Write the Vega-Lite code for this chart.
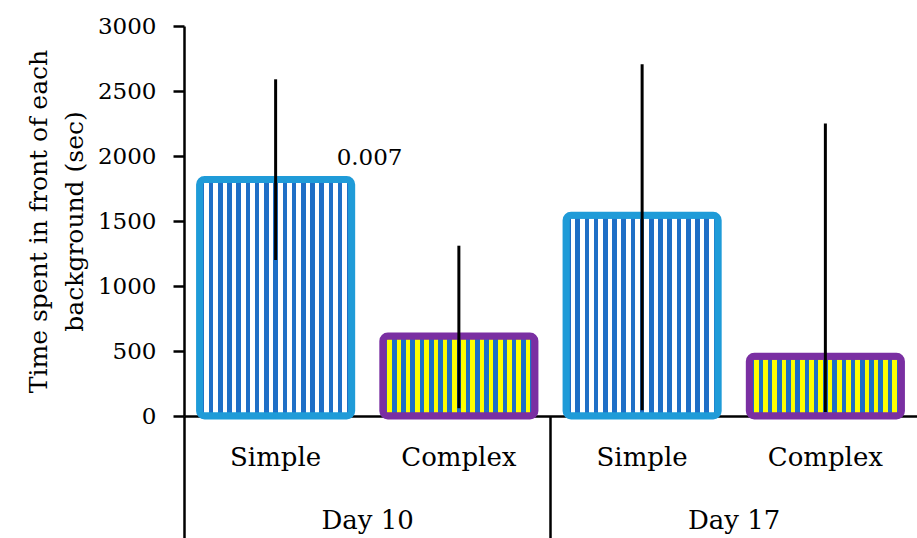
{
  "$schema": "https://vega.github.io/schema/vega-lite/v6.json",
  "width": 733,
  "height": 390,
  "autosize": {"type": "none"},
  "padding": {"left": 184, "top": 26, "right": 0, "bottom": 122},
  "background": "white",
  "config": {
    "view": {"stroke": null},
    "axis": {"labelFont": "DejaVu Serif", "titleFont": "DejaVu Serif", "labelColor": "black", "titleColor": "black", "domainColor": "black", "tickColor": "black", "grid": false},
    "axisY": {"tickSize": 11, "tickWidth": 2.5, "domainWidth": 2.5, "labelFontSize": 23, "labelPadding": 17, "titleFontSize": 25, "titleFontWeight": "normal", "titlePadding": 10, "titleLineHeight": 36}
  },
  "data": {
    "values": [
      {"group": "Day 10|Simple", "day": "Day 10", "type": "Simple", "mean": 1820, "lower": 1200, "upper": 2590, "label": "0.007"},
      {"group": "Day 10|Complex", "day": "Day 10", "type": "Complex", "mean": 615, "lower": 60, "upper": 1310, "label": ""},
      {"group": "Day 17|Simple", "day": "Day 17", "type": "Simple", "mean": 1545, "lower": 45, "upper": 2705, "label": ""},
      {"group": "Day 17|Complex", "day": "Day 17", "type": "Complex", "mean": 460, "lower": 30, "upper": 2250, "label": ""}
    ]
  },
  "resolve": {"axis": {"x": "independent"}},
  "layer": [
    {
      "transform": [{"filter": "datum.type === 'Simple'"}],
      "mark": {
        "type": "bar", "stroke": "#1f9bd8", "strokeWidth": 7, "cornerRadius": 5, "width": {"band": 0.83},
        "fill": {"gradient": "linear", "x1": 0, "x2": 1, "y1": 0, "y2": 0, "stops": [
          {"offset":0,"color":"#1f6fc6"},{"offset":0.0303,"color":"#1f6fc6"},
          {"offset":0.0303,"color":"#ffffff"},{"offset":0.0606,"color":"#ffffff"},
          {"offset":0.0606,"color":"#1f6fc6"},{"offset":0.0909,"color":"#1f6fc6"},
          {"offset":0.0909,"color":"#ffffff"},{"offset":0.1212,"color":"#ffffff"},
          {"offset":0.1212,"color":"#1f6fc6"},{"offset":0.1515,"color":"#1f6fc6"},
          {"offset":0.1515,"color":"#ffffff"},{"offset":0.1818,"color":"#ffffff"},
          {"offset":0.1818,"color":"#1f6fc6"},{"offset":0.2121,"color":"#1f6fc6"},
          {"offset":0.2121,"color":"#ffffff"},{"offset":0.2424,"color":"#ffffff"},
          {"offset":0.2424,"color":"#1f6fc6"},{"offset":0.2727,"color":"#1f6fc6"},
          {"offset":0.2727,"color":"#ffffff"},{"offset":0.303,"color":"#ffffff"},
          {"offset":0.303,"color":"#1f6fc6"},{"offset":0.3333,"color":"#1f6fc6"},
          {"offset":0.3333,"color":"#ffffff"},{"offset":0.3636,"color":"#ffffff"},
          {"offset":0.3636,"color":"#1f6fc6"},{"offset":0.3939,"color":"#1f6fc6"},
          {"offset":0.3939,"color":"#ffffff"},{"offset":0.4242,"color":"#ffffff"},
          {"offset":0.4242,"color":"#1f6fc6"},{"offset":0.4545,"color":"#1f6fc6"},
          {"offset":0.4545,"color":"#ffffff"},{"offset":0.4848,"color":"#ffffff"},
          {"offset":0.4848,"color":"#1f6fc6"},{"offset":0.5152,"color":"#1f6fc6"},
          {"offset":0.5152,"color":"#ffffff"},{"offset":0.5455,"color":"#ffffff"},
          {"offset":0.5455,"color":"#1f6fc6"},{"offset":0.5758,"color":"#1f6fc6"},
          {"offset":0.5758,"color":"#ffffff"},{"offset":0.6061,"color":"#ffffff"},
          {"offset":0.6061,"color":"#1f6fc6"},{"offset":0.6364,"color":"#1f6fc6"},
          {"offset":0.6364,"color":"#ffffff"},{"offset":0.6667,"color":"#ffffff"},
          {"offset":0.6667,"color":"#1f6fc6"},{"offset":0.697,"color":"#1f6fc6"},
          {"offset":0.697,"color":"#ffffff"},{"offset":0.7273,"color":"#ffffff"},
          {"offset":0.7273,"color":"#1f6fc6"},{"offset":0.7576,"color":"#1f6fc6"},
          {"offset":0.7576,"color":"#ffffff"},{"offset":0.7879,"color":"#ffffff"},
          {"offset":0.7879,"color":"#1f6fc6"},{"offset":0.8182,"color":"#1f6fc6"},
          {"offset":0.8182,"color":"#ffffff"},{"offset":0.8485,"color":"#ffffff"},
          {"offset":0.8485,"color":"#1f6fc6"},{"offset":0.8788,"color":"#1f6fc6"},
          {"offset":0.8788,"color":"#ffffff"},{"offset":0.9091,"color":"#ffffff"},
          {"offset":0.9091,"color":"#1f6fc6"},{"offset":0.9394,"color":"#1f6fc6"},
          {"offset":0.9394,"color":"#ffffff"},{"offset":0.9697,"color":"#ffffff"},
          {"offset":0.9697,"color":"#1f6fc6"},{"offset":1,"color":"#1f6fc6"}
        ]}
      },
      "encoding": {
        "x": {"field": "group", "type": "nominal", "sort": null,
              "scale": {"domain": ["Day 10|Simple", "Day 10|Complex", "Day 17|Simple", "Day 17|Complex"], "paddingInner": 0, "paddingOuter": 0},
              "axis": {"orient": "bottom", "title": null, "labelAngle": 0, "labelExpr": "split(datum.value, '|')[1]", "ticks": false, "domain": true, "domainWidth": 2.5, "labelFontSize": 26, "labelPadding": 28}},
        "y": {"field": "mean", "type": "quantitative", "scale": {"domain": [0, 3000], "nice": false},
              "title": ["Time spent in front of each", "background (sec)"],
              "axis": {"values": [0, 500, 1000, 1500, 2000, 2500, 3000], "format": "d"}}
      }
    },
    {
      "transform": [{"filter": "datum.type === 'Complex'"}],
      "mark": {
        "type": "bar", "stroke": "#7a2fa2", "strokeWidth": 7, "cornerRadius": 5, "width": {"band": 0.83},
        "fill": {"gradient": "linear", "x1": 0, "x2": 1, "y1": 0, "y2": 0, "stops": [
          {"offset":0,"color":"#1f6fc6"},{"offset":0.0303,"color":"#1f6fc6"},
          {"offset":0.0303,"color":"#ffff00"},{"offset":0.0606,"color":"#ffff00"},
          {"offset":0.0606,"color":"#1f6fc6"},{"offset":0.0909,"color":"#1f6fc6"},
          {"offset":0.0909,"color":"#ffff00"},{"offset":0.1212,"color":"#ffff00"},
          {"offset":0.1212,"color":"#1f6fc6"},{"offset":0.1515,"color":"#1f6fc6"},
          {"offset":0.1515,"color":"#ffff00"},{"offset":0.1818,"color":"#ffff00"},
          {"offset":0.1818,"color":"#1f6fc6"},{"offset":0.2121,"color":"#1f6fc6"},
          {"offset":0.2121,"color":"#ffff00"},{"offset":0.2424,"color":"#ffff00"},
          {"offset":0.2424,"color":"#1f6fc6"},{"offset":0.2727,"color":"#1f6fc6"},
          {"offset":0.2727,"color":"#ffff00"},{"offset":0.303,"color":"#ffff00"},
          {"offset":0.303,"color":"#1f6fc6"},{"offset":0.3333,"color":"#1f6fc6"},
          {"offset":0.3333,"color":"#ffff00"},{"offset":0.3636,"color":"#ffff00"},
          {"offset":0.3636,"color":"#1f6fc6"},{"offset":0.3939,"color":"#1f6fc6"},
          {"offset":0.3939,"color":"#ffff00"},{"offset":0.4242,"color":"#ffff00"},
          {"offset":0.4242,"color":"#1f6fc6"},{"offset":0.4545,"color":"#1f6fc6"},
          {"offset":0.4545,"color":"#ffff00"},{"offset":0.4848,"color":"#ffff00"},
          {"offset":0.4848,"color":"#1f6fc6"},{"offset":0.5152,"color":"#1f6fc6"},
          {"offset":0.5152,"color":"#ffff00"},{"offset":0.5455,"color":"#ffff00"},
          {"offset":0.5455,"color":"#1f6fc6"},{"offset":0.5758,"color":"#1f6fc6"},
          {"offset":0.5758,"color":"#ffff00"},{"offset":0.6061,"color":"#ffff00"},
          {"offset":0.6061,"color":"#1f6fc6"},{"offset":0.6364,"color":"#1f6fc6"},
          {"offset":0.6364,"color":"#ffff00"},{"offset":0.6667,"color":"#ffff00"},
          {"offset":0.6667,"color":"#1f6fc6"},{"offset":0.697,"color":"#1f6fc6"},
          {"offset":0.697,"color":"#ffff00"},{"offset":0.7273,"color":"#ffff00"},
          {"offset":0.7273,"color":"#1f6fc6"},{"offset":0.7576,"color":"#1f6fc6"},
          {"offset":0.7576,"color":"#ffff00"},{"offset":0.7879,"color":"#ffff00"},
          {"offset":0.7879,"color":"#1f6fc6"},{"offset":0.8182,"color":"#1f6fc6"},
          {"offset":0.8182,"color":"#ffff00"},{"offset":0.8485,"color":"#ffff00"},
          {"offset":0.8485,"color":"#1f6fc6"},{"offset":0.8788,"color":"#1f6fc6"},
          {"offset":0.8788,"color":"#ffff00"},{"offset":0.9091,"color":"#ffff00"},
          {"offset":0.9091,"color":"#1f6fc6"},{"offset":0.9394,"color":"#1f6fc6"},
          {"offset":0.9394,"color":"#ffff00"},{"offset":0.9697,"color":"#ffff00"},
          {"offset":0.9697,"color":"#1f6fc6"},{"offset":1,"color":"#1f6fc6"}
        ]}
      },
      "encoding": {
        "x": {"field": "group", "type": "nominal", "sort": null, "axis": null},
        "y": {"field": "mean", "type": "quantitative", "title": ["Time spent in front of each", "background (sec)"],
              "axis": {"values": [0, 500, 1000, 1500, 2000, 2500, 3000], "format": "d"}}
      }
    },
    {
      "mark": {"type": "rule", "color": "black", "strokeWidth": 3},
      "encoding": {
        "x": {"field": "group", "type": "nominal", "sort": null,
              "axis": {"orient": "bottom", "title": null, "labelAngle": 0, "domain": false, "ticks": true, "tickSize": 122, "tickWidth": 2.5, "bandPosition": 0,
                       "tickColor": {"condition": {"test": "indexof(datum.value, 'Simple') >= 0", "value": "black"}, "value": "transparent"},
                       "labelExpr": "indexof(datum.value, 'Simple') >= 0 ? split(datum.value, '|')[0] : ''",
                       "labelOffset": 92, "labelPadding": -31, "labelFontSize": 26, "labelOverlap": false, "labelBound": false}},
        "y": {"field": "lower", "type": "quantitative", "title": ["Time spent in front of each", "background (sec)"],
              "axis": {"values": [0, 500, 1000, 1500, 2000, 2500, 3000], "format": "d"}},
        "y2": {"field": "upper"}
      }
    },
    {
      "mark": {"type": "text", "align": "left", "baseline": "bottom", "dx": 61, "dy": -9, "font": "DejaVu Serif", "fontSize": 23, "color": "black"},
      "encoding": {
        "x": {"field": "group", "type": "nominal", "sort": null, "axis": null},
        "y": {"field": "mean", "type": "quantitative", "title": ["Time spent in front of each", "background (sec)"],
              "axis": {"values": [0, 500, 1000, 1500, 2000, 2500, 3000], "format": "d"}},
        "text": {"field": "label"}
      }
    }
  ]
}
